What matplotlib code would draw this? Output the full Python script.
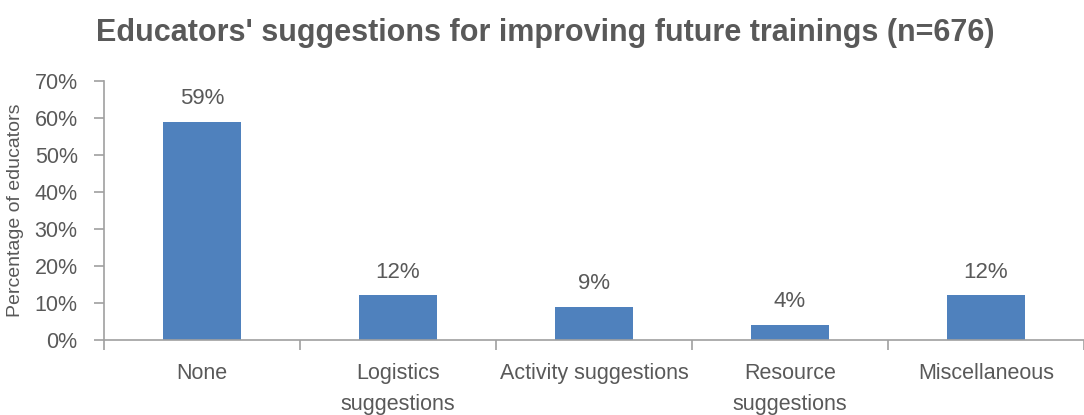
import matplotlib
matplotlib.use("Agg")
import matplotlib.pyplot as plt
from matplotlib.ticker import FuncFormatter, FixedLocator
import numpy as np

categories = ["None", "Logistics\nsuggestions", "Activity suggestions", "Resource\nsuggestions", "Miscellaneous"]
values = [59, 12, 9, 4, 12]
labels = ["59%", "12%", "9%", "4%", "12%"]
title = "Educators' suggestions for improving future trainings (n=676)"
ylabel = "Percentage of educators"

font = ["Liberation Sans Narrow", "Liberation Sans", "DejaVu Sans"]
plt.rcParams['font.family'] = font
txt = "#595959"
axc = "#a0a0a0"
barc = "#4f81bd"

fig = plt.figure(figsize=(10.84, 4.15), dpi=100)
ax = fig.add_axes([0.096, 0.181, 0.904, 0.624])

x = np.arange(len(categories))
ax.bar(x, values, width=0.4, color=barc, zorder=2)
for xi, v, l in zip(x, values, labels):
    ax.text(xi, v + 3.5, l, ha="center", va="bottom", fontsize=16, color=txt)

ax.set_xlim(-0.5, len(categories) - 0.5)
ax.set_ylim(0, 70)
ax.set_yticks(np.arange(0, 71, 10))
ax.yaxis.set_major_formatter(FuncFormatter(lambda v, p: f"{int(v)}%"))
ax.set_xticks(x)
ax.set_xticklabels(categories, fontsize=15.5, color=txt, linespacing=1.6, va="top")
ax.xaxis.set_minor_locator(FixedLocator(np.arange(-0.5, len(categories), 1)))
ax.tick_params(axis="x", which="major", length=0, pad=17)
ax.tick_params(axis="x", which="minor", length=7, color=axc, width=1.2)
ax.tick_params(axis="y", labelsize=15.5, colors=txt, length=7, color=axc, width=1.2, pad=12)
for s in ["top", "right"]:
    ax.spines[s].set_visible(False)
for s in ["left", "bottom"]:
    ax.spines[s].set_color(axc)
    ax.spines[s].set_linewidth(1.2)
ax.set_ylabel(ylabel, fontsize=14, color=txt, va="center")
ax.yaxis.set_label_coords(-0.09, 0.5)
fig.text(0.503, 0.92, title, ha="center", va="center", fontsize=22, fontweight="bold", color=txt)

fig.savefig("out.png", dpi=100)
